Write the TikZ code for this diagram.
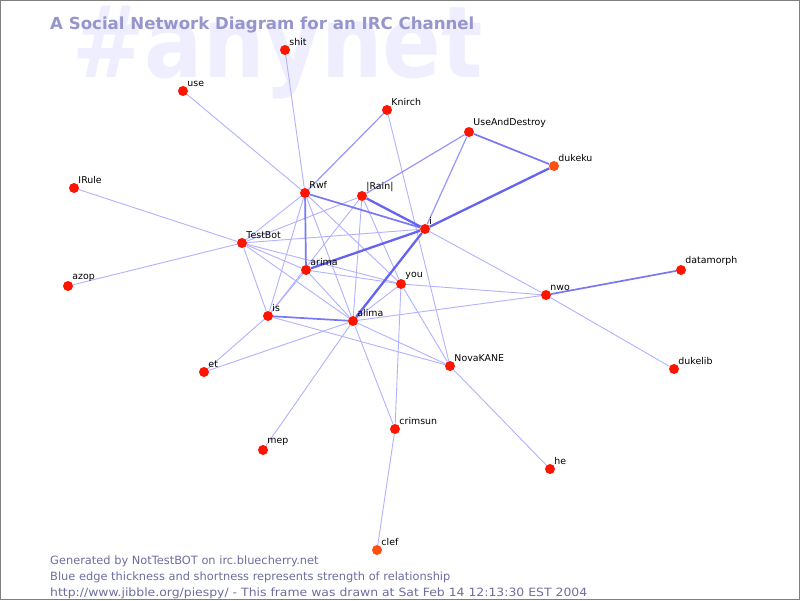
\documentclass[tikz,border=0pt]{standalone}
\usepackage{fontspec}
\setmainfont{DejaVu Sans}
\setsansfont{DejaVu Sans}
\usepackage{tikz}

\definecolor{nodered}{RGB}{255,20,0}
\definecolor{nodeorange}{RGB}{255,80,16}
\definecolor{edgelight}{RGB}{178,178,255}
\definecolor{edgemid}{RGB}{150,150,252}
\definecolor{edgedark}{RGB}{120,120,245}
\definecolor{edgeheavy}{RGB}{100,100,240}
\definecolor{titleblue}{RGB}{150,150,205}
\definecolor{markblue}{RGB}{238,238,255}
\definecolor{footblue}{RGB}{110,110,160}

\pgfdeclarelayer{bg}
\pgfdeclarelayer{edges}
\pgfsetlayers{bg,edges,main}

\begin{document}
\begin{tikzpicture}[
		x=1pt, y=-1pt,
		user/.style = {
			shape=circle, fill=nodered, inner sep=0pt, minimum size=10pt},
		quiet/.style = {user, fill=nodeorange},
		lbl/.style = {font=\fontsize{9.4}{11}\selectfont, inner sep=0.6pt, text=black},
		foot/.style = {anchor=base west, inner sep=0pt, text=footblue,
			font=\fontsize{11.4}{13}\selectfont},
		weak/.style = {draw=edgelight, line width=0.9pt},
		mid/.style = {draw=edgemid, line width=1.2pt},
		strong/.style = {draw=edgedark, line width=1.7pt},
		heavy/.style = {draw=edgeheavy, line width=2.3pt}]
		\useasboundingbox (0,0) rectangle (800,600);
		\begin{pgfonlayer}{bg}
			\fill[white] (0,0) rectangle (800,600);
			\node[anchor=base west, inner sep=0pt, text=markblue,
				font=\fontsize{92}{92}\selectfont\bfseries] (mark) at (72,77)
				{\scalebox{0.94}[1.08]{\#anynet}};
			\node[anchor=base west, inner sep=0pt, text=titleblue,
				font=\fontsize{16.6}{18}\selectfont\bfseries] (title) at (50,29)
				{A Social Network Diagram for an IRC Channel};
			\draw[gray, line width=1pt] (0.5,0.5) rectangle (799.5,599.5);
		\end{pgfonlayer}
		% the users
		\node[user, label={[lbl]north east:shit}] (shit) at (285,50) {};
		\node[user, label={[lbl]north east:use}] (use) at (183,91) {};
		\node[user, label={[lbl]north east:Knirch}] (knirch) at (387,110) {};
		\node[user, label={[lbl]north east:UseAndDestroy}] (uad) at (469,132) {};
		\node[quiet, label={[lbl]north east:dukeku}] (dukeku) at (554,166) {};
		\node[user, label={[lbl]north east:IRule}] (irule) at (74,188) {};
		\node[user, label={[lbl]north east:Rwf}] (rwf) at (305,193) {};
		\node[user, label={[lbl]north east:|Rain|}] (rain) at (362,196) {};
		\node[user, label={[lbl]north east:i}] (i) at (425,229) {};
		\node[user, label={[lbl]north east:TestBot}] (testbot) at (242,243) {};
		\node[user, label={[lbl]north east:arima}] (arima) at (306,270) {};
		\node[user, label={[lbl]north east:datamorph}] (datamorph) at (681,270) {};
		\node[user, label={[lbl]north east:you}] (you) at (401,284) {};
		\node[user, label={[lbl]north east:azop}] (azop) at (68,286) {};
		\node[user, label={[lbl]north east:nwo}] (nwo) at (546,295) {};
		\node[user, label={[lbl]north east:is}] (is) at (268,316) {};
		\node[user, label={[lbl]north east:alima}] (alima) at (353,321) {};
		\node[user, label={[lbl]north east:NovaKANE}] (nova) at (450,366) {};
		\node[user, label={[lbl]north east:et}] (et) at (204,372) {};
		\node[user, label={[lbl]north east:dukelib}] (dukelib) at (674,369) {};
		\node[user, label={[lbl]north east:crimsun}] (crimsun) at (395,429) {};
		\node[user, label={[lbl]north east:mep}] (mep) at (263,450) {};
		\node[user, label={[lbl]north east:he}] (he) at (550,469) {};
		\node[quiet, label={[lbl]north east:clef}] (clef) at (377,550) {};
		% who talks to whom
		\begin{pgfonlayer}{edges}
			\foreach \a/\b in {shit/rwf, use/rwf, irule/testbot, azop/testbot,
				knirch/nova, rwf/testbot, rwf/is, rwf/you, rwf/alima,
				testbot/rain, testbot/i, testbot/arima, testbot/you, testbot/alima,
				testbot/is, rain/is, rain/alima, rain/you, arima/is, arima/you,
				arima/alima, i/nwo, nwo/you, nwo/alima, nwo/dukelib, you/alima,
				you/crimsun, you/nova, alima/et, alima/mep, alima/crimsun,
				alima/nova, is/et, is/nova, nova/he, crimsun/clef}
				\draw[weak] (\a) -- (\b);
			\foreach \a/\b in {uad/i, uad/rain, knirch/rwf}
				\draw[mid] (\a) -- (\b);
			\foreach \a/\b in {rwf/i, uad/dukeku, nwo/datamorph, is/alima, rwf/arima}
				\draw[strong] (\a) -- (\b);
			\foreach \a/\b in {rain/i, dukeku/i, arima/i, alima/i}
				\draw[heavy] (\a) -- (\b);
		\end{pgfonlayer}
		% footer
		\node[foot] (foot1) at (50,564)
			{Generated by NotTestBOT on irc.bluecherry.net};
		\node[foot] (foot2) at (50,580)
			{Blue edge thickness and shortness represents strength of relationship};
		\node[foot] (foot3) at (50,596)
			{\scalebox{1.09}[1]{http://www.jibble.org/piespy/ - This frame was drawn at Sat Feb 14 12:13:30 EST 2004}};
	\end{tikzpicture}
\end{document}
